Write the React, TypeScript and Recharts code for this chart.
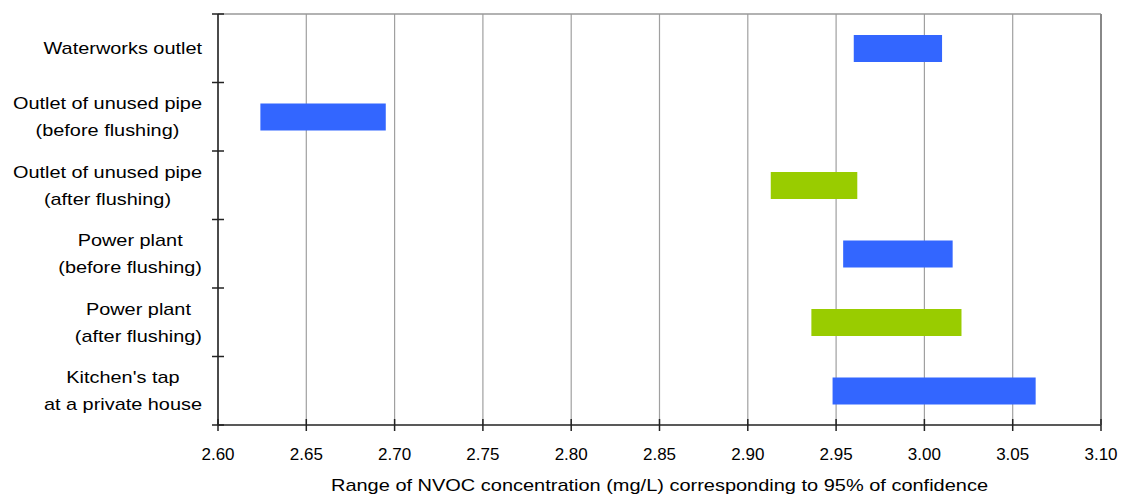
import { Bar, BarChart, CartesianGrid, Cell, XAxis, YAxis } from "recharts";

const categories = [
  "Waterworks outlet",
  "Outlet of unused pipe\n(before flushing)",
  "Outlet of unused pipe\n(after flushing)",
  "Power plant\n(before flushing)",
  "Power plant\n(after flushing)",
  "Kitchen's tap\nat a private house"
];
const lowValues = [2.96, 2.624, 2.913, 2.954, 2.936, 2.948];
const highValues = [3.01, 2.695, 2.962, 3.016, 3.021, 3.063];
const xTicks = [2.6, 2.65, 2.7, 2.75, 2.8, 2.85, 2.9, 2.95, 3.0, 3.05, 3.1];
const xTitle = "Range of NVOC concentration (mg/L) corresponding to 95% of confidence";

const BLUE = "#3366FF";
const GREEN = "#99CC00";
const barColors = [BLUE, BLUE, GREEN, BLUE, GREEN, BLUE];

const W = 1122;
const H = 501;
const Y_AXIS_W = 218;
const TOP_AXIS_H = 14;
const X_AXIS_H = 76;
const FONT = '"Liberation Sans", Arial, sans-serif';
const LABEL_SCALE = 1.17;

const bandSize = (H - TOP_AXIS_H - X_AXIS_H) / categories.length;

const data = categories.map((name, i) => ({
  name,
  range: [lowValues[i], highValues[i]]
}));

let ctx: CanvasRenderingContext2D | null = null;
function measure(text: string) {
  if (!ctx) {
    ctx = document.createElement("canvas").getContext("2d");
  }
  if (!ctx) return text.length * 8;
  ctx.font = `17px ${FONT}`;
  return ctx.measureText(text).width;
}

function CategoryTick(props: any) {
  const { x, y, payload, index } = props;
  const lines = String(payload.value).split("\n");
  const maxW = Math.max(...lines.map(measure)) * LABEL_SCALE;
  const cx = x - 16 - maxW / 2;
  const offsets = lines.length === 1 ? [0] : [-13.5, 13.5];
  const top = y - bandSize / 2;
  return (
    <g>
      <line x1={x - 6} x2={x + 6} y1={top} y2={top} stroke="#222" strokeWidth={1.5} />
      {index === categories.length - 1 && (
        <line x1={x - 6} x2={x + 6} y1={top + bandSize} y2={top + bandSize} stroke="#222" strokeWidth={1.5} />
      )}
      {lines.map((line, i) => (
        <g key={i} transform={`translate(${cx},${y + offsets[i] + 6}) scale(${LABEL_SCALE},1)`}>
          <text x={0} y={0} textAnchor="middle" fontSize={17} fontFamily={FONT} fill="#000">
            {line}
          </text>
        </g>
      ))}
    </g>
  );
}

function ValueTick(props: any) {
  const { x, y, payload } = props;
  return (
    <g>
      <line x1={x} x2={x} y1={y - 6} y2={y + 6} stroke="#222" strokeWidth={1.5} />
      <text x={x} y={y + 35} textAnchor="middle" fontSize={17} fontFamily={FONT} fill="#000">
        {Number(payload.value).toFixed(2)}
      </text>
    </g>
  );
}

function AxisTitle(props: any) {
  const vb = props.viewBox || {};
  return (
    <text
      x={vb.x + vb.width / 2}
      y={vb.y + vb.height - 10}
      textAnchor="middle"
      fontSize={17}
      fontFamily={FONT}
      fill="#000"
      textLength={657}
      lengthAdjust="spacingAndGlyphs"
    >
      {xTitle}
    </text>
  );
}

export default function App() {
  return (
    <div style={{ position: "fixed", left: 0, top: 0, width: W, height: H, background: "#fff" }}>
      <BarChart
        width={W}
        height={H}
        data={data}
        layout="vertical"
        margin={{ top: 0, right: 0, bottom: 0, left: 0 }}
        barSize={27}
      >
        <CartesianGrid horizontal={false} stroke="#a0a0a0" strokeWidth={1.2} />
        <XAxis
          type="number"
          domain={[2.6, 3.1]}
          ticks={xTicks}
          allowDataOverflow
          height={X_AXIS_H}
          tickSize={0}
          tickMargin={0}
          tickLine={false}
          tick={<ValueTick />}
          axisLine={{ stroke: "#222", strokeWidth: 1.5 }}
          interval={0}
          label={{ content: <AxisTitle /> }}
        />
        <XAxis
          xAxisId="top"
          orientation="top"
          type="number"
          domain={[2.6, 3.1]}
          height={TOP_AXIS_H}
          tick={false}
          tickLine={false}
          axisLine={{ stroke: "#999", strokeWidth: 1.5 }}
        />
        <YAxis
          type="category"
          dataKey="name"
          width={Y_AXIS_W}
          tickSize={0}
          tickMargin={0}
          tickLine={false}
          tick={<CategoryTick />}
          axisLine={{ stroke: "#222", strokeWidth: 1.5 }}
          interval={0}
        />
        <YAxis
          yAxisId="right"
          orientation="right"
          type="category"
          dataKey="name"
          width={21}
          tick={false}
          tickLine={false}
          axisLine={{ stroke: "#888", strokeWidth: 2 }}
        />
        <Bar dataKey="range" isAnimationActive={false}>
          {data.map((d, i) => (
            <Cell key={d.name} fill={barColors[i]} />
          ))}
        </Bar>
      </BarChart>
    </div>
  );
}
